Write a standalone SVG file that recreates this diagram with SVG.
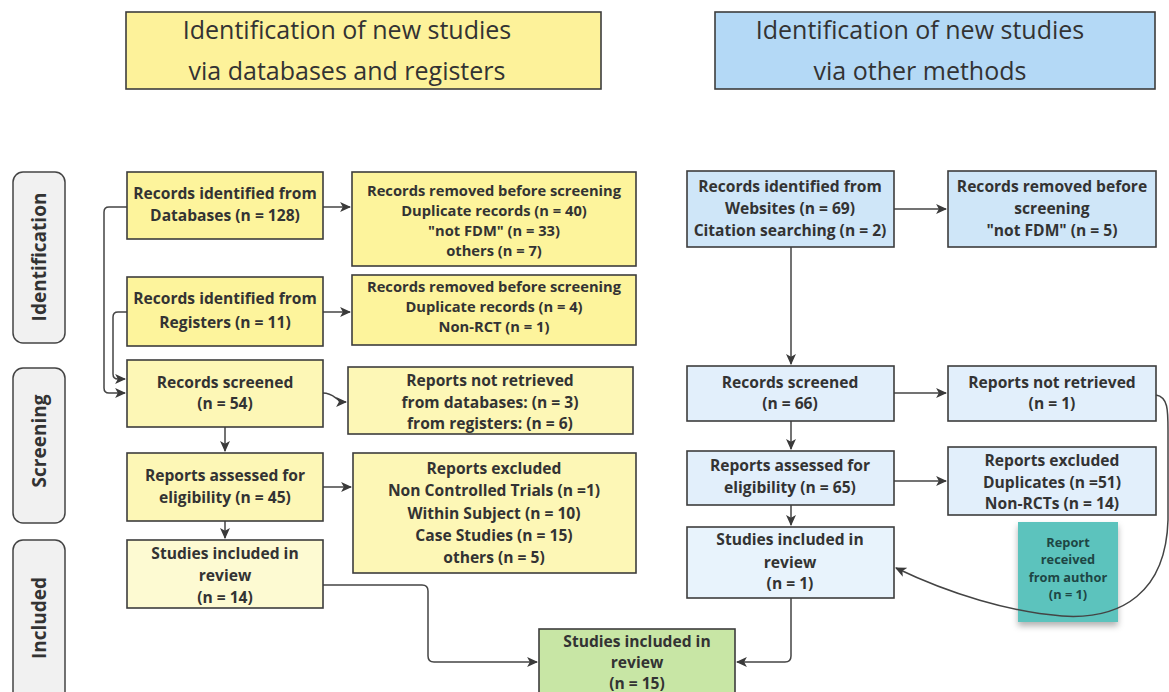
<svg xmlns="http://www.w3.org/2000/svg" width="1169" height="692" viewBox="0 0 1169 692">
<defs>
<marker id="ah" viewBox="0 0 10 10" refX="9" refY="5" markerWidth="11" markerHeight="11" markerUnits="userSpaceOnUse" orient="auto">
<path d="M0,0.5 L10,5 L0,9.5 L2.5,5 z" fill="#3a3a3a"/>
</marker>
<filter id="sh" x="-20%" y="-20%" width="140%" height="150%">
<feDropShadow dx="0" dy="4" stdDeviation="3" flood-color="#000" flood-opacity="0.3"/>
</filter>
</defs>
<style>
.b{stroke:#3d3d3d;stroke-width:1.6}
.t{font-family:"Open Sans","Noto Sans","Liberation Sans",sans-serif;font-weight:bold;font-size:15.6px;fill:#333;text-anchor:middle}
.tt{font-size:14.7px}
.h{font-family:"Open Sans","Noto Sans","Liberation Sans",sans-serif;font-size:25px;fill:#333;text-anchor:middle}
.s{font-family:"Open Sans","Noto Sans","Liberation Sans",sans-serif;font-weight:bold;font-size:19px;fill:#333;text-anchor:middle}
.n{font-family:"Open Sans","Noto Sans","Liberation Sans",sans-serif;font-weight:bold;font-size:12.8px;fill:#1e4644;text-anchor:middle}
.c{fill:none;stroke:#444;stroke-width:1.5;marker-end:url(#ah)}
.y1{fill:#fdf49c}.y2{fill:#fdf7b6}.y3{fill:#fdfad2}
.u1{fill:#cfe6f8}.u2{fill:#e2effb}.u3{fill:#e8f3fc}
.lab{fill:#f1f1f1;stroke:#444;stroke-width:1.5}
</style>
<rect width="1169" height="692" fill="#ffffff"/>

<g id="hdr-left"><rect class="b" x="126" y="12" width="475" height="77" fill="#fdf29a"/>
<text class="h" x="347" y="39">Identification of new studies</text>
<text class="h" x="347" y="80">via databases and registers</text></g>
<g id="hdr-right"><rect class="b" x="715" y="12" width="440" height="77" fill="#b4d9f6"/>
<text class="h" x="920" y="39">Identification of new studies</text>
<text class="h" x="920" y="80">via other methods</text></g>

<g id="lab-ident"><rect class="lab" x="13" y="172" width="52" height="171" rx="10"/>
<text class="s" transform="translate(46,257) rotate(-90)">Identification</text></g>
<g id="lab-screen"><rect class="lab" x="13" y="368" width="52" height="155" rx="10"/>
<text class="s" transform="translate(46,441) rotate(-90)">Screening</text></g>
<g id="lab-incl"><rect class="lab" x="13" y="540" width="52" height="170" rx="10"/>
<text class="s" transform="translate(46,618) rotate(-90)">Included</text></g>

<g id="connectors">
<path class="c" d="M323,207 H350"/>
<path class="c" d="M323,312 H350"/>
<path class="c" d="M127,207 H109 Q104,207 104,212 V388 Q104,393 109,393 H125"/>
<path class="c" d="M127,312 H118 Q113,312 113,317 V374 Q113,379 118,379 H125"/>
<path class="c" d="M323,393 C335,393 336,402 346,402"/>
<path class="c" d="M225,427 V451"/>
<path class="c" d="M323,487 H351"/>
<path class="c" d="M225,521 V538"/>
<path class="c" d="M323,585 H422 Q428,585 428,591 V656 Q428,662 434,662 H537"/>
<path class="c" d="M791,598 V656 Q791,662 785,662 H737"/>
<path class="c" d="M894,209 H946"/>
<path class="c" d="M791,247 V364"/>
<path class="c" d="M894,393 H946"/>
<path class="c" d="M791,421 V449"/>
<path class="c" d="M894,481 H946"/>
<path class="c" d="M791,505 V525"/>
</g>

<g id="n-db"><rect class="b y1" x="127" y="172" width="196" height="67"/>
<text class="t" x="225" y="199">Records identified from</text>
<text class="t" x="225" y="221">Databases (n = 128)</text></g>
<g id="n-reg"><rect class="b y1" x="127" y="277" width="196" height="69"/>
<text class="t" x="225" y="304">Records identified from</text>
<text class="t" x="225" y="328">Registers (n = 11)</text></g>
<g id="n-scr"><rect class="b y2" x="127" y="360" width="196" height="67"/>
<text class="t" x="225" y="388">Records screened</text>
<text class="t" x="225" y="409">(n = 54)</text></g>
<g id="n-ass"><rect class="b y2" x="127" y="453" width="196" height="68"/>
<text class="t" x="225" y="481">Reports assessed for</text>
<text class="t" x="225" y="503">eligibility (n = 45)</text></g>
<g id="n-inc"><rect class="b y3" x="127" y="540" width="196" height="68"/>
<text class="t" x="225" y="559">Studies included in</text>
<text class="t" x="225" y="581">review</text>
<text class="t" x="225" y="603">(n = 14)</text></g>

<g id="n-rem1"><rect class="b y1" x="352" y="172" width="284" height="94"/>
<text class="t tt" x="494" y="196">Records removed before screening</text>
<text class="t tt" x="494" y="216">Duplicate records (n = 40)</text>
<text class="t tt" x="494" y="236">"not FDM" (n = 33)</text>
<text class="t tt" x="494" y="256">others (n = 7)</text></g>
<g id="n-rem2"><rect class="b y1" x="352" y="275" width="284" height="70"/>
<text class="t tt" x="494" y="292">Records removed before screening</text>
<text class="t tt" x="494" y="312">Duplicate records (n = 4)</text>
<text class="t tt" x="494" y="332">Non-RCT (n = 1)</text></g>
<g id="n-nr"><rect class="b y2" x="348" y="367" width="285" height="67"/>
<text class="t" x="490" y="386">Reports not retrieved</text>
<text class="t" x="490" y="408">from databases: (n = 3)</text>
<text class="t" x="490" y="429">from registers: (n = 6)</text></g>
<g id="n-exc"><rect class="b y2" x="353" y="453" width="283" height="120"/>
<text class="t" x="494" y="474">Reports excluded</text>
<text class="t" x="494" y="496">Non Controlled Trials (n =1)</text>
<text class="t" x="494" y="519">Within Subject (n = 10)</text>
<text class="t" x="494" y="541">Case Studies (n = 15)</text>
<text class="t" x="494" y="563">others (n = 5)</text></g>

<g id="n-final"><rect class="b" x="539" y="629" width="196" height="80" fill="#c8e6a5"/>
<text class="t" x="637" y="647">Studies included in</text>
<text class="t" x="637" y="668">review</text>
<text class="t" x="637" y="689">(n = 15)</text></g>

<g id="n-web"><rect class="b u1" x="687" y="171" width="207" height="76"/>
<text class="t" x="790" y="192">Records identified from</text>
<text class="t" x="790" y="214">Websites (n = 69)</text>
<text class="t" x="790" y="236">Citation searching (n = 2)</text></g>
<g id="n-rrem"><rect class="b u1" x="948" y="171" width="208" height="76"/>
<text class="t" x="1052" y="192">Records removed before</text>
<text class="t" x="1052" y="214">screening</text>
<text class="t" x="1052" y="236">"not FDM" (n = 5)</text></g>
<g id="n-rscr"><rect class="b u2" x="687" y="366" width="207" height="55"/>
<text class="t" x="790" y="388">Records screened</text>
<text class="t" x="790" y="409">(n = 66)</text></g>
<g id="n-rnr"><rect class="b u2" x="948" y="366" width="208" height="55"/>
<text class="t" x="1052" y="388">Reports not retrieved</text>
<text class="t" x="1052" y="409">(n = 1)</text></g>
<g id="n-rass"><rect class="b u2" x="687" y="451" width="207" height="54"/>
<text class="t" x="790" y="471">Reports assessed for</text>
<text class="t" x="790" y="493">eligibility (n = 65)</text></g>
<g id="n-rexc"><rect class="b u2" x="948" y="447" width="208" height="68"/>
<text class="t" x="1052" y="466">Reports excluded</text>
<text class="t" x="1052" y="488">Duplicates (n =51)</text>
<text class="t" x="1052" y="509">Non-RCTs (n = 14)</text></g>
<g id="n-rinc"><rect class="b u3" x="687" y="527" width="207" height="71"/>
<text class="t" x="790" y="545">Studies included in</text>
<text class="t" x="790" y="568">review</text>
<text class="t" x="790" y="589">(n = 1)</text></g>

<g id="n-note"><rect x="1018" y="522" width="100" height="100" fill="#5cc3bd" filter="url(#sh)"/>
<text class="n" x="1068" y="547">Report</text>
<text class="n" x="1068" y="564">received</text>
<text class="n" x="1068" y="582">from author</text>
<text class="n" x="1068" y="599">(n = 1)</text></g>

<g id="connectors-curve">
<path class="c" d="M1156,395 C1168,397 1168,410 1168,430 L1168,520 C1166,592 1122,620 1062,616 C1010,612 950,594 896,568"/>
</g>
</svg>
